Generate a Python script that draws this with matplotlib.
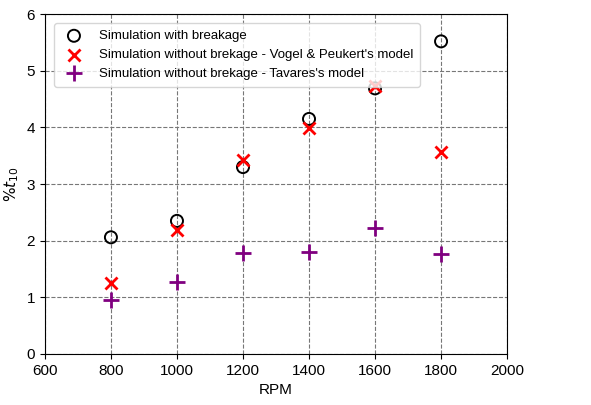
import matplotlib
matplotlib.use("Agg")
import matplotlib.pyplot as plt

plt.rcParams['font.family'] = ['Liberation Sans', 'DejaVu Sans']

rpm = [800, 1000, 1200, 1400, 1600, 1800]
with_breakage = [2.06, 2.35, 3.30, 4.15, 4.69, 5.52]
vogel_peukert = [1.25, 2.19, 3.42, 3.99, 4.73, 3.56]
tavares = [0.95, 1.27, 1.78, 1.80, 2.22, 1.76]

fig = plt.figure(figsize=(5.91, 4.05), dpi=100)
ax = fig.add_axes([0.076, 0.126, 0.782, 0.839])

ax.scatter(rpm, with_breakage, s=75, facecolors='none', edgecolors='black',
           linewidths=1.4, label='Simulation with breakage', zorder=3)
ax.scatter(rpm, vogel_peukert, s=75, marker='x', color='red', linewidths=2,
           label="Simulation without brekage - Vogel & Peukert's model", zorder=3)
ax.scatter(rpm, tavares, s=120, marker='+', color='purple', linewidths=2,
           label="Simulation without brekage - Tavares's model", zorder=3)

ax.set_xlim(600, 2000)
ax.set_ylim(0, 6)
ax.set_xlabel('RPM', fontsize=11)
ax.set_ylabel(r'$\%t_{10}$', fontsize=11)
ax.tick_params(labelsize=11)
ax.grid(True, linestyle='--', color='#777777', linewidth=0.8)
ax.set_axisbelow(True)
ax.legend(loc='upper left', fontsize=9.5, handletextpad=0.9,
          borderaxespad=0.7, borderpad=0.5, labelspacing=0.5)

fig.savefig('out.png', dpi=100)
